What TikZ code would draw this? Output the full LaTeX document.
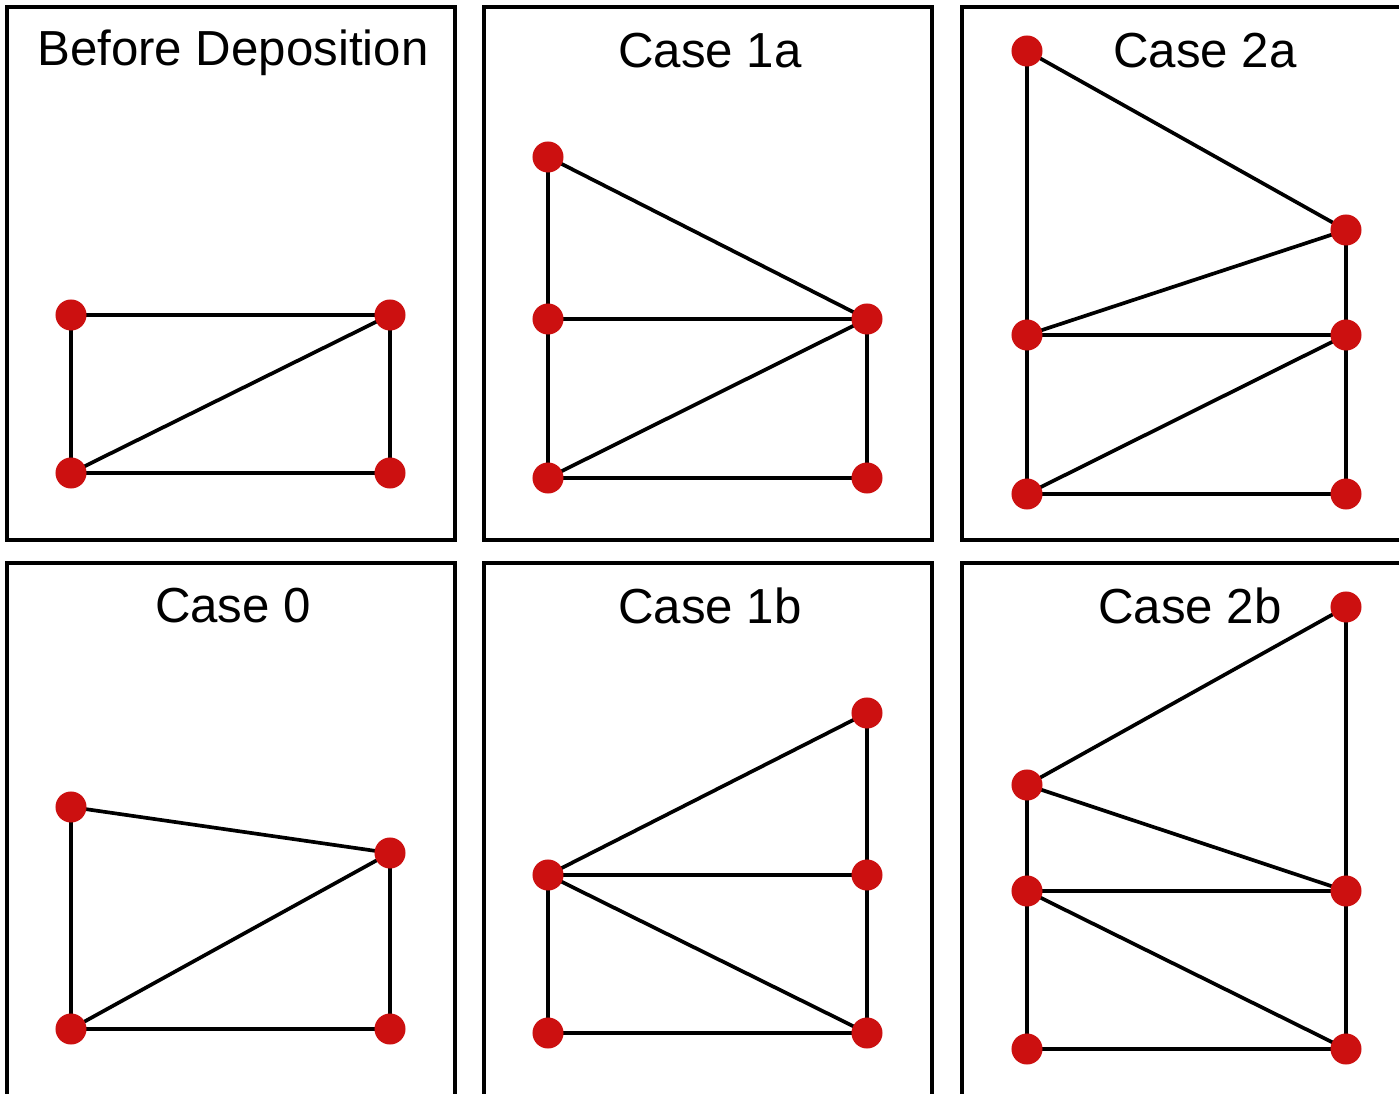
\documentclass[tikz,border=0pt]{standalone}
\usepackage{fontspec}
\setmainfont{Liberation Sans}
\usepackage{xcolor}
\usetikzlibrary{calc}
\usetikzlibrary{positioning}
\definecolor{dotred}{HTML}{CC1010}
\tikzset{
  panel/.style={draw=black, line width=0.95pt},
  edge/.style={draw=black, line width=1.05pt},
  dot/.style={circle, fill=dotred, inner sep=0pt, minimum size=0.31cm},
  caption/.style={font=\fontsize{14}{16}\selectfont, anchor=center}
}
\begin{document}
\begin{tikzpicture}[x=0.01cm, y=-0.01cm]
                \clip (0,0) rectangle (1399,1094);
                % panels
                \draw[panel] (7,7) rectangle (455,540);
                \draw[panel] (484,7) rectangle (932,540);
                \draw[panel] (962,7) rectangle (1420,540);
                \draw[panel] (7,563) rectangle (455,1120);
                \draw[panel] (484,563) rectangle (932,1120);
                \draw[panel] (962,563) rectangle (1420,1120);
                % titles
                \node[caption] (tBefore) at (233,53) {Before Deposition};
                \node[caption] (tOneA) at (710,51) {Case 1a};
                \node[caption] (tTwoA) at (1205,51) {Case 2a};
                \node[caption] (tZero) at (233,606) {Case 0};
                \node[caption] (tOneB) at (710,606) {Case 1b};
                \node[caption] (tTwoB) at (1190,606) {Case 2b};
                % Before Deposition
                \coordinate (b1) at (71,315);
                \coordinate (b2) at (390,315);
                \coordinate (b3) at (71,473);
                \coordinate (b4) at (390,473);
                \draw[edge] (b1) -- (b2) -- (b4) -- (b3) -- cycle;
                \draw[edge] (b3) -- (b2);
                % Case 1a
                \coordinate (p1) at (548,157);
                \coordinate (p2) at (548,319);
                \coordinate (p3) at (867,319);
                \coordinate (p4) at (548,478);
                \coordinate (p5) at (867,478);
                \draw[edge] (p1) -- (p4) -- (p5) -- (p3) -- (p1);
                \draw[edge] (p2) -- (p3);
                \draw[edge] (p4) -- (p3);
                % Case 2a
                \coordinate (q1) at (1027,51);
                \coordinate (q2) at (1346,230);
                \coordinate (q3) at (1027,335);
                \coordinate (q4) at (1346,335);
                \coordinate (q5) at (1027,494);
                \coordinate (q6) at (1346,494);
                \draw[edge] (q1) -- (q5) -- (q6) -- (q2) -- (q1);
                \draw[edge] (q3) -- (q2);
                \draw[edge] (q3) -- (q4);
                \draw[edge] (q5) -- (q4);
                % Case 0
                \coordinate (z1) at (71,807);
                \coordinate (z2) at (390,853);
                \coordinate (z3) at (71,1029);
                \coordinate (z4) at (390,1029);
                \draw[edge] (z1) -- (z3) -- (z4) -- (z2) -- cycle;
                \draw[edge] (z3) -- (z2);
                % Case 1b
                \coordinate (r1) at (867,713);
                \coordinate (r2) at (548,875);
                \coordinate (r3) at (867,875);
                \coordinate (r4) at (548,1033);
                \coordinate (r5) at (867,1033);
                \draw[edge] (r1) -- (r5) -- (r4) -- (r2) -- (r1);
                \draw[edge] (r2) -- (r3);
                \draw[edge] (r2) -- (r5);
                % Case 2b
                \coordinate (s1) at (1346,607);
                \coordinate (s2) at (1027,785);
                \coordinate (s3) at (1346,891);
                \coordinate (s4) at (1027,891);
                \coordinate (s5) at (1027,1049);
                \coordinate (s6) at (1346,1049);
                \draw[edge] (s1) -- (s6) -- (s5) -- (s2) -- (s1);
                \draw[edge] (s2) -- (s3);
                \draw[edge] (s4) -- (s3);
                \draw[edge] (s4) -- (s6);
                % dots on top
                \foreach \v in {b1,b2,b3,b4,p1,p2,p3,p4,p5,q1,q2,q3,q4,q5,q6,
                                z1,z2,z3,z4,r1,r2,r3,r4,r5,s1,s2,s3,s4,s5,s6}
                  \node[dot] (d\v) at (\v) {};
\end{tikzpicture}
\end{document}
